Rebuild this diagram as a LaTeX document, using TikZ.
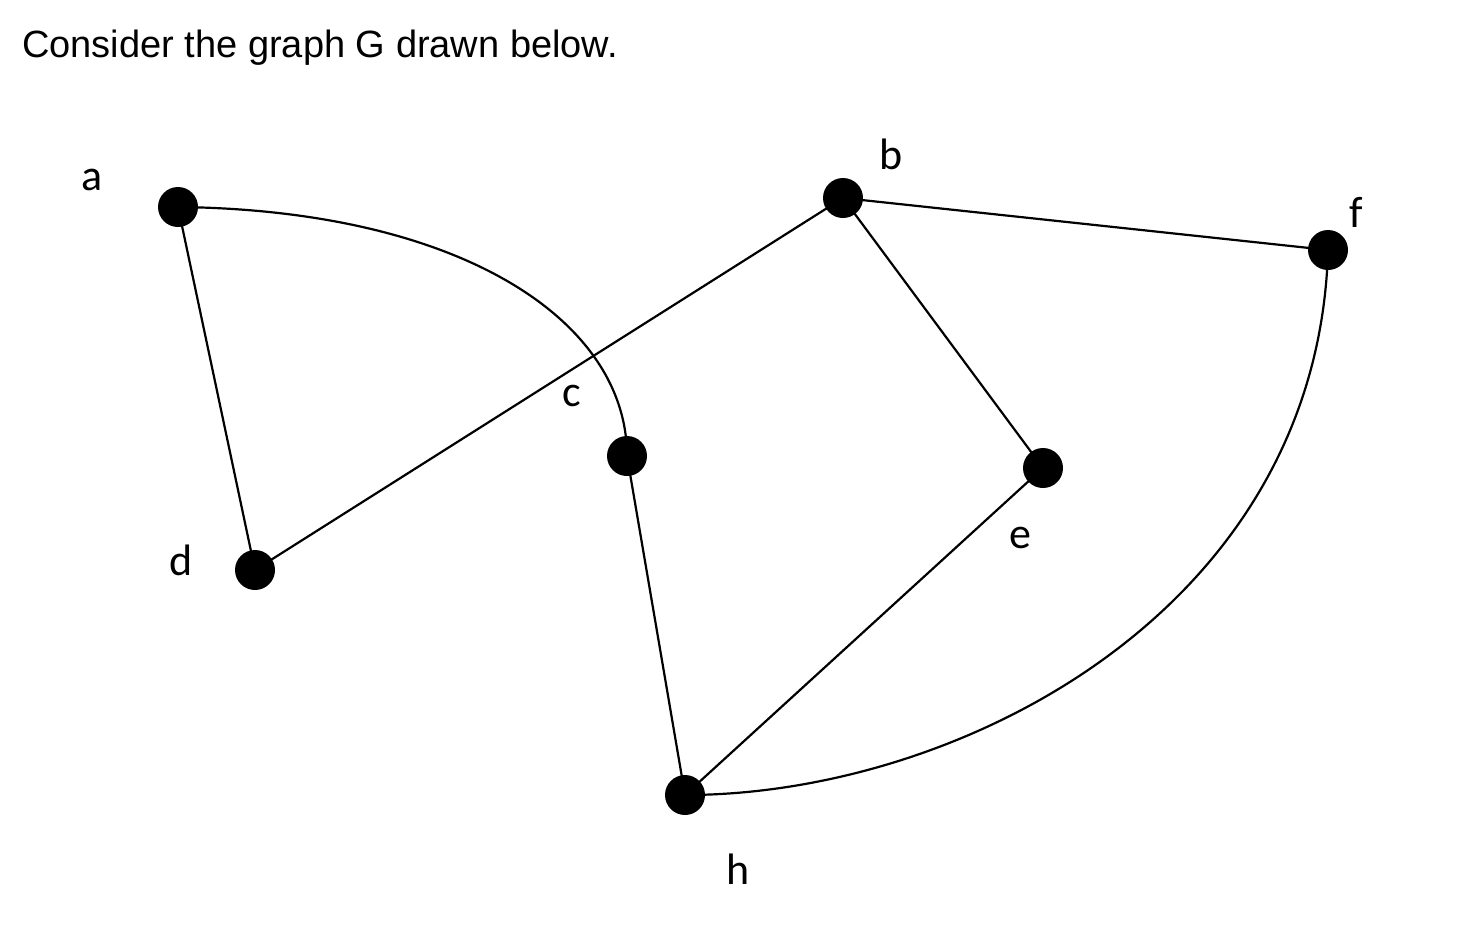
\documentclass[tikz,border=0pt]{standalone}
\usepackage{fontspec}
\setmainfont{Liberation Sans}
\newfontfamily\lblfont{Carlito}
\begin{document}
\begin{tikzpicture}[x=1pt,y=-1pt,
  vtx/.style={circle,fill=black,minimum size=40pt,inner sep=0pt},
  lbl/.style={font=\lblfont\fontsize{44}{48}\selectfont,inner sep=0pt},
  edge/.style={line width=2.2pt}]
\useasboundingbox (0,0) rectangle (1466,924);
\node[anchor=west,inner sep=0pt,font=\fontsize{38}{44}\selectfont] (title) at (22,48) {Consider the graph G drawn below.};
\node[vtx] (a) at (178,207) {};
\node[vtx] (b) at (843,198) {};
\node[vtx] (f) at (1328,250) {};
\node[vtx] (c) at (627,456) {};
\node[vtx] (e) at (1043,468) {};
\node[vtx] (d) at (255,570) {};
\node[vtx] (h) at (685,795) {};
\node[lbl] (la) at (92,180) {a};
\node[lbl] (lb) at (891,154) {b};
\node[lbl] (lf) at (1356,212) {f};
\node[lbl] (lc) at (572,396) {c};
\node[lbl] (le) at (1020,538) {e};
\node[lbl] (ld) at (181,560) {d};
\node[lbl] (lh) at (738,869) {h};
\draw[edge] (a.center) -- (d.center);
\draw[edge] (d.center) -- (b.center);
\draw[edge] (b.center) -- (f.center);
\draw[edge] (b.center) -- (e.center);
\draw[edge] (e.center) -- (h.center);
\draw[edge] (c.center) -- (h.center);
\draw[edge] (a.center) .. controls (460,210) and (627,320) .. (c.center);
\draw[edge] (f.center) .. controls (1318,610) and (960,795) .. (h.center);
\end{tikzpicture}
\end{document}
